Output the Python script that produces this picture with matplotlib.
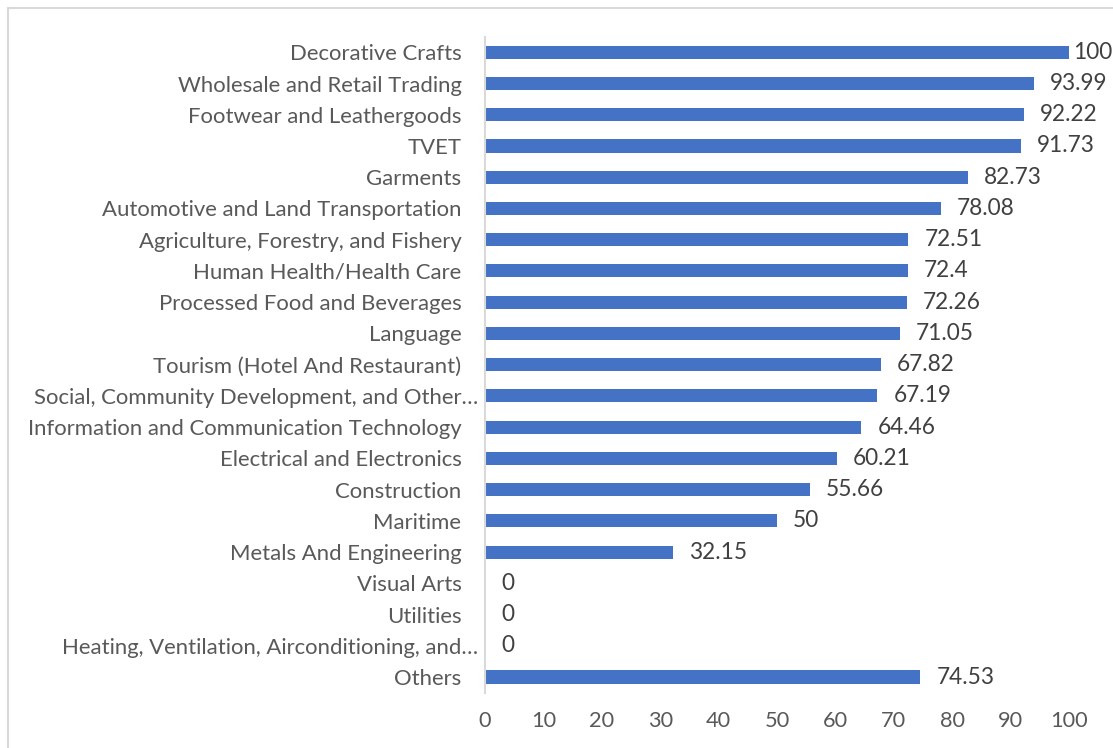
import matplotlib.pyplot as plt
from matplotlib.lines import Line2D

# Категории сверху вниз и значения
categories = [
    "Decorative Crafts",
    "Wholesale and Retail Trading",
    "Footwear and Leathergoods",
    "TVET",
    "Garments",
    "Automotive and Land Transportation",
    "Agriculture, Forestry, and Fishery",
    "Human Health/Health Care",
    "Processed Food and Beverages",
    "Language",
    "Tourism (Hotel And Restaurant)",
    "Social, Community Development, and Other…",
    "Information and Communication Technology",
    "Electrical and Electronics",
    "Construction",
    "Maritime",
    "Metals And Engineering",
    "Visual Arts",
    "Utilities",
    "Heating, Ventilation, Airconditioning, and…",
    "Others",
]
values = [100, 93.99, 92.22, 91.73, 82.73, 78.08, 72.51, 72.4, 72.26, 71.05,
          67.82, 67.19, 64.46, 60.21, 55.66, 50, 32.15, 0, 0, 0, 74.53]
value_labels = ["100", "93.99", "92.22", "91.73", "82.73", "78.08", "72.51", "72.4",
                "72.26", "71.05", "67.82", "67.19", "64.46", "60.21", "55.66", "50",
                "32.15", "0", "0", "0", "74.53"]
x_ticks = list(range(0, 101, 10))

plt.rcParams['font.family'] = ['Lato', 'DejaVu Sans']
text_color = "#595959"

fig = plt.figure(figsize=(11.13, 7.48), dpi=100)
ax = fig.add_axes([0.4358, 0.074, 0.5247, 0.877])

# рамка вокруг диаграммы
fig.add_artist(Line2D([8 / 1113, 8 / 1113], [0, 1 - 8 / 748], transform=fig.transFigure,
                      color="#d9d9d9", linewidth=1.5))
fig.add_artist(Line2D([8 / 1113, 1], [1 - 8 / 748, 1 - 8 / 748], transform=fig.transFigure,
                      color="#d9d9d9", linewidth=1.5))

y = list(range(len(categories)))
ax.barh(y, values, height=0.42, color="#4472C4")

for yi, v, lab in zip(y, values, value_labels):
    off = 4 if v >= 100 else 16
    ax.annotate(lab, (v, yi), xytext=(off * 0.72, 0), textcoords="offset points",
                ha="left", va="center", fontsize=16.3, color="#404040")

ax.set_ylim(len(categories) - 0.5, -0.5)
ax.set_xlim(0, 100)
ax.set_yticks(y)
ax.set_yticklabels(categories, fontsize=15.9, color=text_color)
ax.set_xticks(x_ticks)
ax.set_xticklabels([str(t) for t in x_ticks], fontsize=15.7, color=text_color)
ax.tick_params(axis="both", length=0)
ax.tick_params(axis="y", pad=17)
ax.tick_params(axis="x", pad=13)
for tick, lab in zip(ax.yaxis.get_major_ticks(), categories):
    if lab.endswith("…"):
        tick.set_pad(5)

for s in ["top", "right", "bottom"]:
    ax.spines[s].set_visible(False)
ax.spines["left"].set_color("#d9d9d9")
ax.spines["left"].set_linewidth(1.5)

fig.savefig("out.png", dpi=100)
